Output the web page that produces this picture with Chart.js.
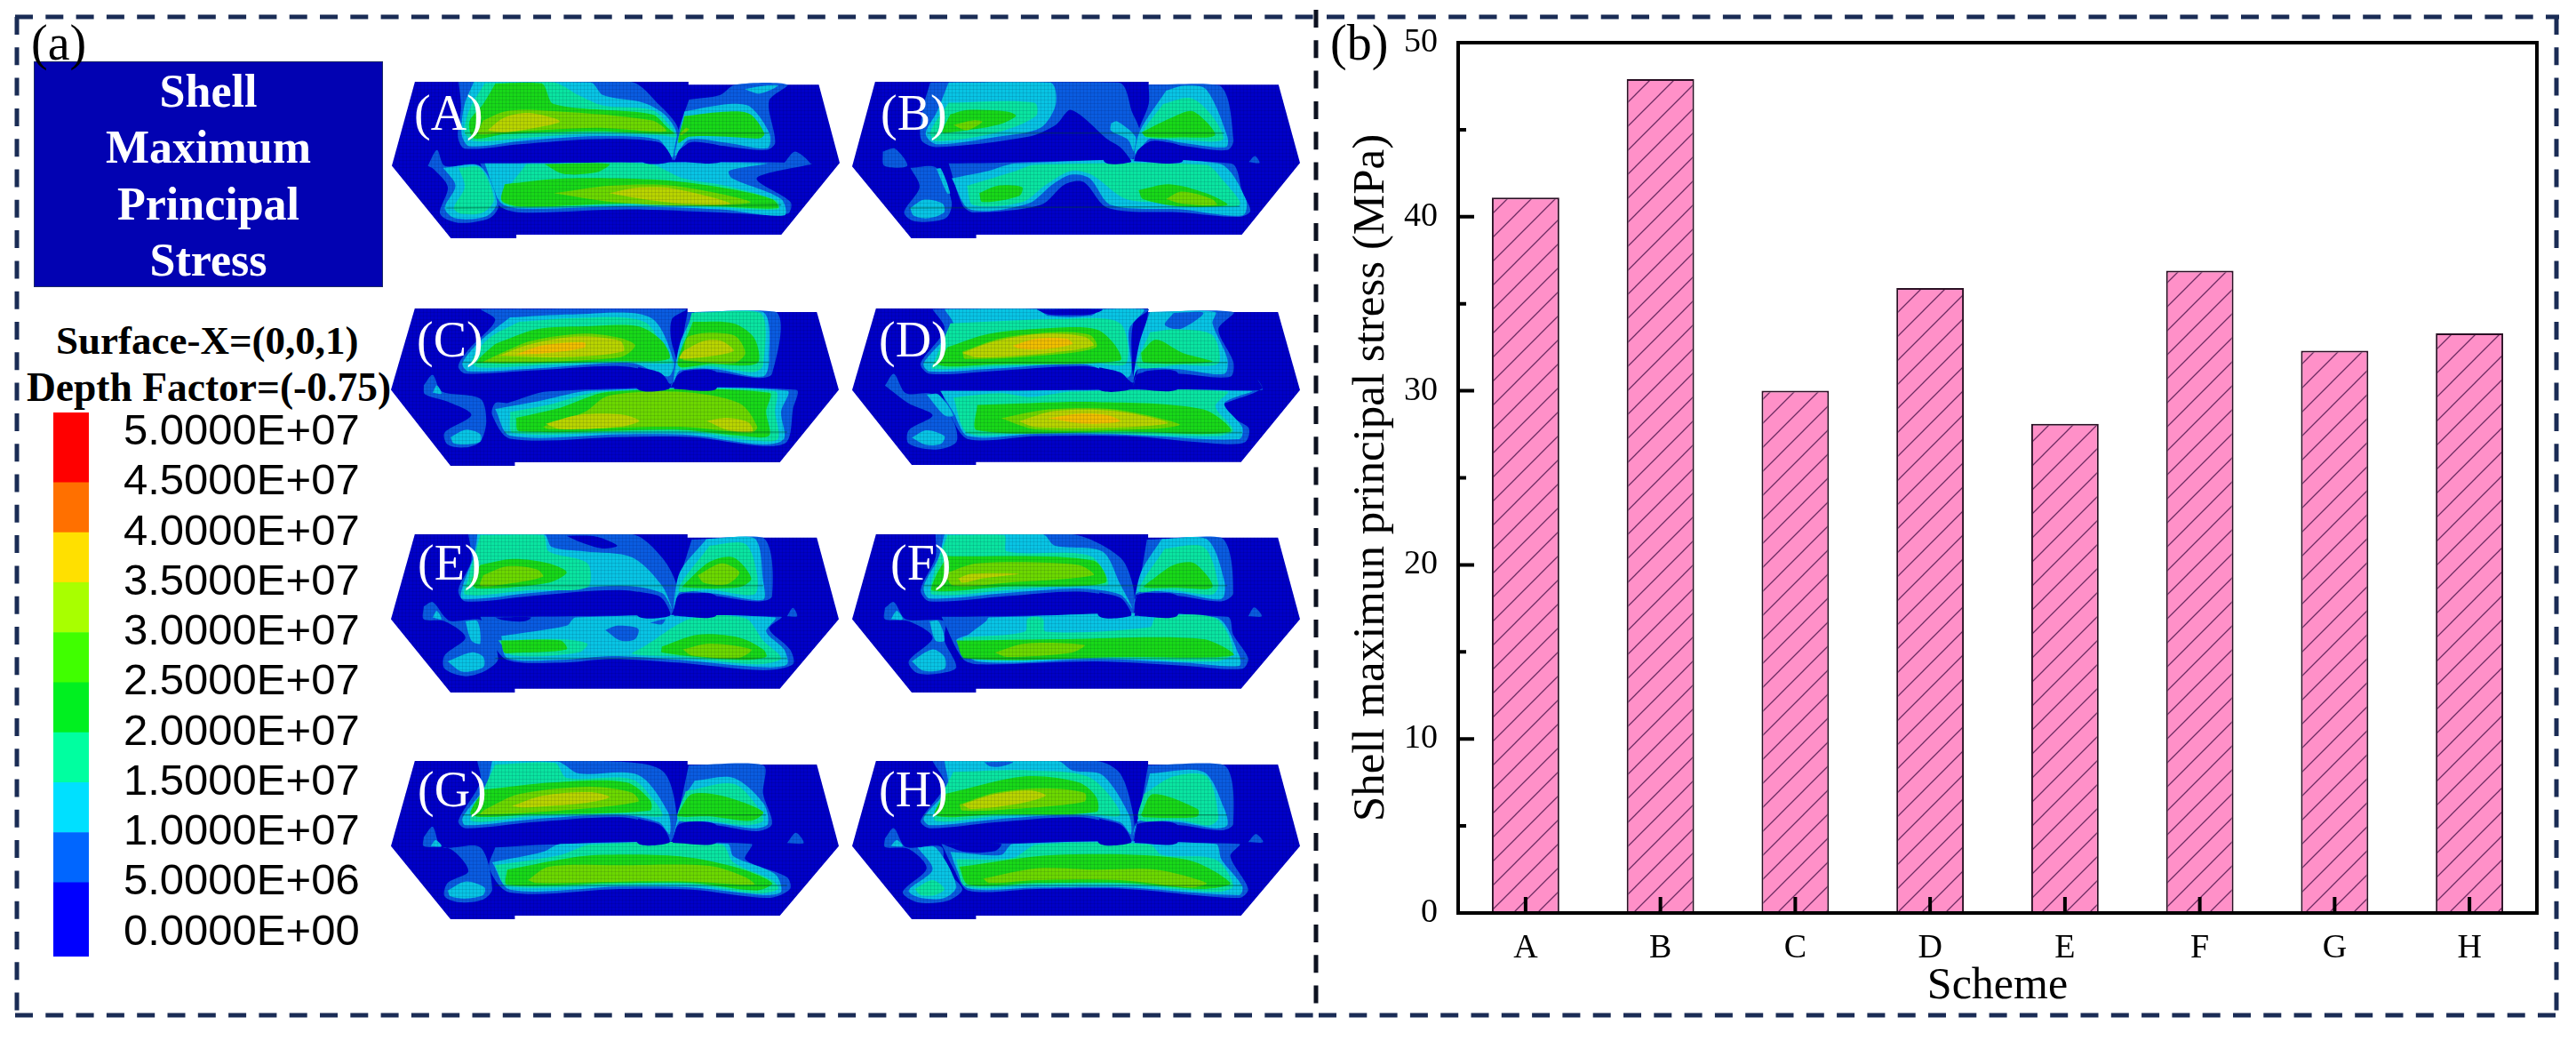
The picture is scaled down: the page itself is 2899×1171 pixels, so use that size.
<!DOCTYPE html>
<html lang="en">
<head>
<meta charset="UTF-8">
<title>Shell maximum principal stress</title>
<script src="https://cdn.jsdelivr.net/npm/chart.js"></script>
<style>
    html, body { margin: 0; background: #fff; width: 2899px; height: 1171px; overflow: hidden; }
    canvas, svg, .t { position: absolute; }
    .t { white-space: nowrap; line-height: 60px; height: 60px; color: #000; font-family: "Liberation Serif", serif; }
    .title { left: 38px; width: 393px; text-align: center; color: #fff; font-weight: bold; font-size: 52px; }
    .sub { font-weight: bold; }
    .tag { font-size: 56px; color: #fff; }
    .panel { font-size: 56px; }
    #box { position: absolute; left: 38px; top: 69px; width: 391px; height: 252px; background: #0202b2; border: 1px solid #1c2a66; }
    .mesh { filter: blur(0.6px); }
</style>
</head>
<body>
<svg width="2899" height="1171">
    <g stroke="#1a2c55" stroke-width="5" stroke-dasharray="20 14.3" fill="none">
        <line x1="17" y1="19" x2="1481" y2="19"/>
        <line x1="1493" y1="19" x2="2880" y2="19"/>
        <line x1="17" y1="1142" x2="1481" y2="1142"/>
        <line x1="1484" y1="1142" x2="2880" y2="1142"/>
        <line x1="19" y1="19" x2="19" y2="1142"/>
        <line x1="2877" y1="19" x2="2877" y2="1142"/>
        <line x1="1481" y1="11" x2="1481" y2="1142" stroke="#0d1220"/>
    </g>
</svg>

<div id="box"></div>
<div class="t title" style="top:73px">Shell</div>
<div class="t title" style="top:136px">Maximum</div>
<div class="t title" style="top:200px">Principal</div>
<div class="t title" style="top:263px">Stress</div>
<div class="t panel" style="left:35px;top:18px">(a)</div>
<div class="t panel" style="left:1497px;top:18px">(b)</div>
<div class="t sub" style="left:63px;top:353px;font-size:45px">Surface-X=(0,0,1)</div>
<div class="t sub" style="left:30px;top:406px;font-size:45.5px">Depth Factor=(-0.75)</div>

<canvas id="colorbarChart" width="370" height="612" style="left:60px;top:464px"></canvas>
<canvas id="barChart" width="1380" height="1115" style="left:1490px;top:25px"></canvas>

<script>
// panel (b)
const schemes = ['A', 'B', 'C', 'D', 'E', 'F', 'G', 'H'];
const shellStress = [41.1, 47.9, 30.0, 35.9, 28.1, 36.9, 32.3, 33.3];
const minorStressTicks = [5, 15, 25, 35, 45];

// colour bar of panel (a)
const levelColors = ['#0000ff', '#0066ff', '#00e0ff', '#00ffa0', '#00f020', '#40ff00', '#a8ff00', '#ffe000', '#ff7000', '#ff0000'];
const levelLow = [-2400000, 5000000, 10000000, 15000000, 20000000, 25000000, 30000000, 35000000, 40000000, 45000000];
const levelHigh = [5000000, 10000000, 15000000, 20000000, 25000000, 30000000, 35000000, 40000000, 45000000, 52000000];
const levelTickValues = [0, 5000000, 10000000, 15000000, 20000000, 25000000, 30000000, 35000000, 40000000, 45000000, 50000000];
const levelTickLabels = ['0.0000E+00', '5.0000E+06', '1.0000E+07', '1.5000E+07', '2.0000E+07', '2.5000E+07', '3.0000E+07', '3.5000E+07', '4.0000E+07', '4.5000E+07', '5.0000E+07'];

// contour bands, index used in the [band, points] pairs below. 8 = deep blue patch, 7 = seam line
const bandColors = ['#0a5ce0', '#08c4e4', '#0ae4a0', '#18d818', '#6cd800', '#b8d400', '#f0be00', 'rgba(0,70,40,0.4)', '#0000c8'];

const panelNames = ['(A)', '(B)', '(C)', '(D)', '(E)', '(F)', '(G)', '(H)'];

// mesh outlines and contours, in each panel's own mesh units
const shellA = [108,95, 998,95, 998,105, 1422,105, 1490,368, 1300,610, 438,610, 438,622, 225,622, 33,378];
const contoursA = [
    [0, [250,95, 810,95, 900,170, 965,255, 945,360, 900,300, 700,288, 450,305, 270,320, 248,280, 258,180]],
    [1, [300,95, 680,97, 720,140, 850,165, 920,205, 960,270, 945,350, 900,290, 700,278, 450,295, 285,312, 260,270, 270,170]],
    [2, [335,100, 560,97, 640,140, 720,175, 880,190, 935,240, 958,280, 900,275, 700,268, 450,285, 300,295, 270,265, 285,190]],
    [3, [370,100, 520,100, 560,170, 880,205, 930,250, 950,270, 700,262, 400,272, 300,285, 285,230, 330,170]],
    [4, [330,225, 400,195, 500,190, 880,225, 925,262, 700,250, 400,265, 315,270]],
    [5, [345,258, 400,215, 480,200, 580,228, 500,250, 400,265]],
    [0, [1000,155, 1100,140, 1150,105, 1320,105, 1260,160, 1280,300, 1250,325, 1100,310, 1000,300, 950,360, 965,260]],
    [1, [985,195, 1130,170, 1200,180, 1262,270, 1255,318, 1120,300, 1000,290, 955,345, 970,260]],
    [1, [1180,120, 1250,108, 1290,108, 1230,135]],
    [3, [985,210, 1130,195, 1200,205, 1245,270, 1230,285, 1120,280, 1000,280, 965,300]],
    [4, [970,270, 990,250, 1000,255, 975,275]],
    [0, [320,370, 1395,370, 1220,420, 1330,500, 1320,540, 1100,535, 800,525, 450,535, 380,510]],
    [1, [335,370, 1250,370, 1130,395, 1140,420, 1300,490, 1310,545, 1100,525, 800,515, 450,522, 385,500]],
    [2, [470,372, 870,372, 980,420, 1120,445, 1285,495, 1290,525, 1100,518, 800,508, 450,518, 390,495]],
    [3, [530,372, 740,372, 700,400, 590,405]],
    [3, [400,440, 600,420, 900,425, 1100,450, 1270,490, 1290,520, 1100,515, 800,505, 450,515, 390,495]],
    [4, [560,470, 740,445, 950,445, 1200,500, 1000,512, 750,500]],
    [5, [740,470, 830,452, 950,455, 1135,505, 980,505, 850,490]],
    [0, [150,378, 180,325, 205,378, 320,378, 380,510, 350,555, 250,570, 190,540, 215,450, 170,390]],
    [1, [200,385, 320,380, 375,500, 340,548, 240,555, 205,520, 240,445]],
    [2, [250,385, 320,385, 365,490, 330,535, 260,540, 235,520, 270,450]],
    [0, [1310,368, 1345,330, 1395,372, 1350,372]],
    [8, [850,292, 905,300, 930,325, 943,362, 850,366]],
    [8, [955,362, 968,325, 1005,303, 1100,312, 1100,366]],
    [7, [270,268, 1260,268]],
    [7, [210,520, 1300,510]]
];
const shellB = [100,95, 993,95, 993,105, 1417,105, 1487,368, 1297,610, 430,610, 430,622, 218,622, 25,380];
const contoursB = [
    [0, [280,97, 895,97, 940,200, 965,270, 935,365, 920,340, 860,290, 740,190, 690,240, 600,280, 300,315, 250,290, 255,190]],
    [1, [340,97, 672,97, 690,170, 640,250, 500,280, 300,305, 265,270, 300,200]],
    [1, [870,235, 890,228, 950,280, 945,330, 925,290, 870,260]],
    [2, [340,165, 620,165, 625,210, 500,265, 300,295, 280,265]],
    [3, [345,205, 400,190, 530,195, 560,210, 500,240, 350,265, 320,265]],
    [4, [355,240, 420,225, 450,230, 400,258]],
    [0, [993,105, 1225,108, 1270,290, 1250,325, 1100,310, 1000,295, 945,360, 960,260, 993,170]],
    [1, [1050,125, 1110,108, 1180,120, 1250,280, 1245,315, 1100,300, 1000,285, 950,340, 965,260]],
    [2, [1040,170, 1130,150, 1200,210, 1235,290, 1100,290, 975,275]],
    [3, [970,265, 1080,210, 1140,195, 1210,275, 1100,282, 985,280]],
    [0, [340,370, 1260,370, 1300,470, 1325,530, 1290,550, 1100,535, 860,520, 780,432, 720,440, 640,510, 420,535, 385,510]],
    [1, [350,420, 470,395, 560,370, 1220,370, 1310,490, 1300,545, 1100,525, 870,510, 800,420, 740,408, 680,440, 600,505, 410,525]],
    [2, [400,445, 560,395, 620,375, 1180,375, 1230,420, 1290,510, 1100,500, 920,490, 810,410, 740,395, 660,440, 580,500, 420,510]],
    [3, [440,470, 500,445, 580,450, 570,480, 450,500]],
    [3, [960,460, 1060,440, 1180,470, 1250,510, 1100,515, 975,490]],
    [4, [1050,490, 1100,465, 1200,490, 1215,510, 1100,505]],
    [0, [125,330, 165,320, 205,378, 130,378]],
    [0, [215,385, 300,385, 350,500, 330,555, 230,565, 195,535, 245,450]],
    [1, [300,388, 315,388, 345,470, 335,470]],
    [1, [215,520, 260,492, 320,505, 325,535, 270,555, 225,545]],
    [0, [1320,365, 1340,345, 1355,368]],
    [8, [850,285, 900,315, 925,345, 935,365, 850,366]],
    [8, [945,362, 958,325, 1000,297, 1100,312, 1100,366]],
    [7, [270,268, 1240,268]],
    [7, [210,520, 1290,515]]
];
const shellC = [55,80, 513,80, 513,92, 730,92, 767,355, 668,600, 223,600, 223,612, 115,612, 15,355];
const contoursC = [
    [0, [165,82, 510,82, 487,115, 485,180, 495,270, 485,335, 465,300, 400,275, 250,290, 140,300, 128,275, 145,220, 190,120]],
    [1, [215,110, 320,100, 450,110, 490,260, 480,310, 420,265, 280,280, 145,292, 135,265, 165,190]],
    [2, [230,125, 330,112, 440,125, 480,240, 487,265, 400,262, 280,270, 165,280, 150,260, 180,180]],
    [3, [190,200, 260,150, 340,140, 430,140, 470,190, 482,250, 400,258, 160,265, 165,245]],
    [4, [185,245, 250,190, 340,165, 400,180, 425,205, 400,245, 170,262]],
    [5, [195,240, 250,200, 330,175, 400,190, 405,225, 300,245]],
    [6, [225,235, 270,205, 340,195, 340,212, 280,230]],
    [0, [513,92, 662,92, 655,300, 630,315, 560,295, 500,300, 485,345, 497,260]],
    [1, [525,92, 640,92, 650,250, 640,310, 560,285, 500,290, 490,330, 500,200]],
    [2, [520,95, 635,95, 640,270, 625,295, 550,275, 500,280]],
    [3, [522,125, 590,130, 625,180, 630,265, 550,268, 497,272]],
    [4, [505,255, 515,175, 590,170, 610,230, 590,265]],
    [5, [505,225, 540,190, 570,190, 590,225, 500,250]],
    [0, [210,400, 280,360, 695,355, 690,420, 680,530, 640,545, 520,515, 400,515, 215,520, 185,440, 190,400]],
    [1, [190,420, 270,390, 350,358, 680,358, 670,430, 675,520, 640,540, 520,508, 400,505, 215,510]],
    [2, [215,430, 280,405, 370,360, 660,360, 660,430, 665,520, 630,528, 520,498, 400,498, 220,500]],
    [3, [225,450, 300,415, 380,362, 650,365, 645,430, 650,510, 600,510, 500,490, 230,495]],
    [4, [270,480, 340,430, 380,375, 500,362, 600,400, 630,480, 620,500, 500,480, 280,488]],
    [5, [275,470, 330,440, 400,438, 432,460, 400,480, 300,488]],
    [5, [545,460, 580,450, 615,465, 622,495, 580,490]],
    [0, [70,340, 85,305, 100,360, 165,385, 175,460, 165,530, 140,550, 110,540, 105,500, 150,440, 110,395, 72,370]],
    [1, [115,515, 140,490, 165,505, 165,530, 140,540, 120,535]],
    [1, [85,365, 92,340, 100,368]],
    [8, [430,278, 465,295, 478,320, 482,352, 430,354]],
    [8, [490,352, 495,310, 510,290, 560,293, 560,354]],
    [7, [135,262, 650,262]],
    [7, [205,498, 680,498]]
];
const shellD = [830,80, 1287,80, 1287,92, 1505,92, 1542,355, 1443,597, 998,597, 998,607, 890,607, 790,355];
const contoursD = [
    [0, [925,82, 1287,82, 1262,130, 1260,280, 1262,330, 1240,300, 1180,275, 1030,290, 920,300, 905,265, 945,150]],
    [1, [945,82, 1100,82, 1120,105, 1190,105, 1210,82, 1280,82, 1255,150, 1255,310, 1180,268, 1030,282, 920,292, 910,265, 960,140]],
    [8, [1100,84, 1210,84, 1190,100, 1120,100]],
    [2, [955,130, 1150,115, 1240,130, 1250,265, 1190,262, 1030,275, 925,282, 930,250]],
    [3, [950,210, 1020,165, 1130,145, 1200,150, 1230,200, 1240,255, 1030,268, 935,270]],
    [4, [975,225, 1040,180, 1130,160, 1190,170, 1200,210, 1130,235, 980,250]],
    [5, [975,230, 1030,190, 1110,165, 1180,175, 1195,205, 1110,232, 1000,245]],
    [6, [1060,205, 1100,182, 1150,182, 1160,200, 1110,218, 1070,215]],
    [0, [1287,92, 1430,92, 1405,150, 1430,260, 1425,310, 1340,300, 1270,300, 1262,345, 1275,240]],
    [1, [1290,92, 1400,92, 1395,130, 1420,250, 1415,300, 1340,285, 1270,285, 1262,320, 1272,200, 1285,120]],
    [0, [1330,95, 1380,95, 1340,150, 1315,135]],
    [2, [1290,160, 1340,150, 1395,170, 1405,265, 1340,270, 1270,275]],
    [3, [1275,230, 1300,185, 1345,230, 1395,260, 1280,262]],
    [0, [940,357, 1478,355, 1470,318, 1478,350, 1400,420, 1455,480, 1450,530, 1400,535, 1250,510, 1100,510, 985,520, 955,440]],
    [1, [938,358, 1460,358, 1415,400, 1445,480, 1440,520, 1250,505, 1100,502, 985,510, 960,430]],
    [2, [960,380, 1040,365, 1090,378, 1160,360, 1420,360, 1400,410, 1430,490, 1400,510, 1100,495, 985,500]],
    [3, [1000,405, 1200,395, 1380,420, 1425,495, 1250,495, 1000,490]],
    [4, [1040,450, 1120,420, 1230,420, 1340,470, 1300,485, 1100,488]],
    [5, [1070,460, 1130,425, 1230,425, 1320,465, 1250,480, 1100,480]],
    [6, [1118,450, 1170,435, 1220,440, 1240,460, 1180,468]],
    [0, [845,340, 860,300, 880,365, 925,370, 960,460, 965,530, 930,555, 885,535, 885,490, 925,440, 885,400]],
    [1, [915,370, 935,370, 960,440, 945,440]],
    [1, [890,515, 915,490, 945,510, 940,535, 915,540]],
    [8, [1205,278, 1240,295, 1253,320, 1258,352, 1205,354]],
    [8, [1264,352, 1270,310, 1285,290, 1335,293, 1335,354]],
    [7, [910,262, 1420,262]],
    [7, [980,498, 1445,498]]
];
const shellE = [55,92, 513,92, 513,103, 730,103, 767,378, 668,612, 223,612, 223,625, 115,625, 15,378];
const contoursE = [
    [0, [145,92, 420,92, 470,170, 495,270, 485,365, 470,310, 400,280, 250,300, 140,318, 128,280, 150,180]],
    [1, [160,92, 272,92, 285,135, 340,150, 420,170, 470,265, 487,345, 470,290, 400,265, 250,290, 135,310, 135,270, 155,160]],
    [8, [310,97, 360,100, 395,130, 370,140, 335,120]],
    [2, [165,95, 270,95, 280,150, 345,190, 345,270, 250,280, 140,295, 145,240]],
    [3, [165,195, 220,175, 280,190, 310,220, 280,255, 160,275, 150,250]],
    [4, [170,230, 210,200, 260,210, 270,235, 200,262, 165,265]],
    [0, [520,110, 640,103, 655,300, 630,318, 560,300, 500,295, 485,365, 497,260]],
    [1, [545,108, 625,105, 640,250, 640,312, 560,292, 500,288, 490,345, 500,220]],
    [2, [550,130, 610,125, 630,230, 625,295, 550,278, 498,280]],
    [3, [510,255, 550,185, 590,170, 620,240, 600,270, 505,270]],
    [4, [530,230, 570,190, 600,220, 580,260, 540,255]],
    [0, [165,370, 670,370, 650,410, 685,480, 690,530, 640,550, 500,525, 385,512, 300,525, 210,515, 180,440]],
    [1, [200,435, 310,400, 325,372, 660,372, 645,420, 675,480, 680,530, 640,540, 500,515, 385,502, 300,515, 210,508]],
    [8, [190,372, 250,372, 240,385, 205,382]],
    [0, [375,415, 395,400, 430,410, 425,445, 400,450]],
    [0, [450,390, 475,378, 470,395]],
    [2, [195,450, 300,445, 345,460, 330,490, 220,500]],
    [2, [440,470, 520,375, 610,375, 640,450, 670,510, 630,530, 500,505, 420,495]],
    [3, [200,450, 300,450, 310,480, 220,492, 205,490]],
    [3, [470,470, 530,430, 600,440, 640,480, 645,505, 600,515, 470,490]],
    [4, [505,480, 550,460, 620,480, 600,508, 520,500]],
    [0, [70,335, 85,320, 105,370, 115,385, 170,385, 195,510, 175,550, 140,570, 105,545, 105,500, 140,440, 105,385, 70,378]],
    [1, [110,520, 150,490, 170,505, 170,540, 135,555]],
    [1, [140,385, 160,385, 165,460, 150,450]],
    [1, [85,372, 92,350, 100,378]],
    [0, [680,368, 690,340, 697,368]],
    [8, [430,285, 465,300, 478,330, 483,367, 430,368]],
    [8, [490,367, 495,320, 510,295, 560,298, 560,368]],
    [7, [135,265, 640,265]],
    [7, [190,510, 680,510]]
];
const shellF = [830,92, 1287,92, 1287,103, 1505,103, 1542,378, 1443,612, 998,612, 998,625, 890,625, 790,378];
const contoursF = [
    [0, [930,92, 1160,92, 1240,170, 1262,270, 1262,360, 1240,310, 1170,285, 1050,300, 920,318, 905,280, 930,170]],
    [1, [945,92, 1110,92, 1130,130, 1210,150, 1240,260, 1260,340, 1240,295, 1170,275, 1050,290, 920,308, 910,270, 935,170]],
    [2, [950,95, 1045,95, 1050,150, 1190,165, 1220,260, 1170,262, 1050,280, 925,295, 925,240]],
    [3, [950,165, 1195,180, 1215,255, 1050,268, 925,282, 930,235]],
    [4, [945,225, 1000,190, 1170,195, 1195,230, 1050,255, 960,265]],
    [5, [968,240, 990,225, 1070,225, 1010,240, 975,255]],
    [0, [1285,110, 1410,103, 1430,290, 1410,318, 1340,300, 1270,295, 1260,365, 1272,260]],
    [1, [1310,108, 1385,108, 1415,250, 1410,310, 1340,290, 1270,288, 1262,345, 1275,220]],
    [2, [1315,140, 1380,135, 1405,260, 1395,295, 1320,278, 1272,282]],
    [3, [1290,250, 1330,195, 1365,190, 1395,270, 1330,272, 1280,270]],
    [0, [940,370, 1420,370, 1430,430, 1455,510, 1445,545, 1350,535, 1200,520, 1000,530, 975,510]],
    [1, [985,430, 1015,385, 1020,372, 1400,372, 1440,500, 1440,535, 1350,525, 1200,512, 1000,520, 965,450]],
    [2, [975,440, 1080,420, 1085,375, 1110,375, 1115,420, 1290,405, 1300,372, 1400,375, 1430,490, 1400,520, 1200,505, 1000,512]],
    [3, [965,450, 1150,445, 1380,445, 1430,500, 1250,505, 980,510]],
    [4, [1030,490, 1080,460, 1180,465, 1160,490, 1050,505]],
    [0, [845,340, 860,320, 880,378, 945,385, 945,450, 965,540, 940,560, 900,560, 885,520, 925,440, 885,385, 845,378]],
    [1, [890,520, 925,480, 945,505, 945,545, 910,552]],
    [1, [920,385, 935,385, 945,450, 930,450]],
    [1, [855,378, 865,350, 875,378]],
    [0, [1455,368, 1465,338, 1478,368]],
    [8, [1205,288, 1240,305, 1253,335, 1258,367, 1205,368]],
    [8, [1264,367, 1270,320, 1285,295, 1335,298, 1335,368]],
    [7, [910,265, 1420,265]],
    [7, [970,510, 1450,510]]
];
const shellG = [55,78, 513,78, 513,90, 730,90, 767,365, 668,600, 223,600, 223,612, 115,612, 15,365];
const contoursG = [
    [0, [160,78, 370,78, 470,110, 495,260, 485,350, 465,300, 400,268, 250,285, 140,305, 128,280, 165,150]],
    [1, [185,78, 295,80, 330,120, 430,125, 480,250, 483,325, 465,285, 400,260, 250,275, 140,295, 135,270, 175,160]],
    [2, [190,90, 290,85, 310,135, 420,140, 460,220, 470,265, 400,255, 250,265, 150,280, 165,200]],
    [3, [170,175, 290,150, 410,150, 450,210, 450,245, 250,258, 150,260]],
    [4, [170,245, 230,190, 350,165, 420,185, 430,215, 300,245, 165,258]],
    [5, [218,230, 270,195, 350,183, 382,200, 340,220, 240,235]],
    [0, [515,92, 640,92, 640,190, 655,290, 630,315, 560,295, 500,290, 485,350, 497,260]],
    [1, [525,145, 590,135, 640,220, 648,290, 625,305, 560,288, 500,282, 490,330, 505,210]],
    [2, [510,180, 590,155, 630,230, 640,280, 610,295, 550,280, 497,275]],
    [3, [500,245, 520,190, 570,195, 640,250, 620,280, 550,265, 497,265]],
    [0, [190,370, 280,360, 620,358, 610,410, 680,470, 685,510, 650,540, 520,512, 400,510, 215,522, 180,440]],
    [1, [185,420, 270,385, 300,358, 580,358, 590,400, 660,460, 670,520, 640,530, 520,505, 400,502, 215,512]],
    [2, [190,430, 300,395, 350,360, 570,360, 590,420, 655,480, 665,510, 630,525, 520,495, 400,495, 210,500]],
    [3, [210,445, 300,410, 360,395, 500,400, 600,440, 655,490, 630,515, 520,490, 400,490, 210,495]],
    [4, [245,480, 280,435, 400,430, 550,432, 610,470, 625,495, 520,485, 400,485, 260,490]],
    [0, [70,335, 85,300, 100,368, 165,370, 185,510, 170,545, 130,555, 105,535, 110,490, 145,450, 115,375, 70,365]],
    [1, [110,515, 140,485, 172,505, 170,530, 140,542, 115,535]],
    [1, [82,365, 90,345, 100,365]],
    [0, [680,355, 695,320, 708,355]],
    [8, [430,272, 465,292, 478,320, 482,354, 430,356]],
    [8, [488,354, 494,310, 510,285, 560,292, 560,356]],
    [7, [135,260, 645,260]],
    [7, [190,498, 680,498]]
];
const shellH = [830,78, 1287,78, 1287,90, 1505,90, 1542,365, 1443,600, 998,600, 998,612, 890,612, 790,365];
const contoursH = [
    [0, [925,78, 1200,78, 1240,120, 1262,260, 1262,350, 1240,300, 1170,268, 1030,285, 920,305, 905,280, 945,160]],
    [1, [945,78, 1135,78, 1160,110, 1210,125, 1255,260, 1258,325, 1240,285, 1170,260, 1030,275, 920,295, 910,270, 950,170]],
    [0, [1012,82, 1060,82, 1040,97, 1020,95]],
    [2, [960,115, 1090,110, 1190,135, 1240,260, 1170,252, 1030,265, 930,280, 935,220]],
    [3, [945,190, 1080,130, 1170,150, 1200,200, 1200,250, 1030,258, 930,262]],
    [4, [970,225, 1030,185, 1110,170, 1180,185, 1180,215, 1060,240, 975,245]],
    [5, [975,225, 1030,190, 1090,178, 1115,195, 1070,222, 990,240]],
    [0, [1287,92, 1415,92, 1430,290, 1410,312, 1340,295, 1270,290, 1262,350, 1272,260]],
    [1, [1290,120, 1380,115, 1415,240, 1420,295, 1400,305, 1340,285, 1270,282, 1262,330, 1280,200]],
    [2, [1280,190, 1330,130, 1385,130, 1405,270, 1390,295, 1340,278, 1272,275]],
    [3, [1275,260, 1295,190, 1370,240, 1370,265, 1340,270, 1280,268]],
    [0, [940,358, 1440,358, 1425,400, 1455,510, 1440,540, 1250,510, 1100,510, 985,515, 960,440]],
    [8, [940,358, 1040,358, 1030,382, 980,385]],
    [1, [955,385, 1040,395, 1060,358, 1400,358, 1410,410, 1445,500, 1440,530, 1250,505, 1100,505, 985,508, 965,440]],
    [2, [965,410, 1060,405, 1100,360, 1290,360, 1310,395, 1400,410, 1430,500, 1400,520, 1250,495, 1100,495, 980,500]],
    [3, [970,435, 1130,395, 1350,410, 1425,490, 1380,510, 1250,490, 1100,490, 985,495]],
    [4, [1010,475, 1100,440, 1200,445, 1300,445, 1385,490, 1360,505, 1240,480, 1100,480, 1020,490]],
    [0, [845,340, 860,305, 880,368, 940,368, 945,440, 975,510, 950,550, 900,555, 875,520, 915,440, 885,375, 845,368]],
    [1, [900,370, 930,370, 965,500, 945,540, 905,540, 885,515, 925,445]],
    [2, [895,510, 925,480, 945,510, 930,530, 905,530]],
    [1, [855,365, 865,345, 875,365]],
    [0, [1455,352, 1468,325, 1480,352]],
    [8, [1205,272, 1240,292, 1253,320, 1258,354, 1205,356]],
    [8, [1264,354, 1270,310, 1285,285, 1335,292, 1335,356]],
    [7, [910,260, 1420,260]],
    [7, [980,498, 1445,498]]
];
const shells = [shellA, shellB, shellC, shellD, shellE, shellF, shellG, shellH];
const contours = [contoursA, contoursB, contoursC, contoursD, contoursE, contoursF, contoursG, contoursH];

// where each mesh plot sits on the page
const meshLeft = [441, 959, 440, 959, 440, 959, 440, 959];
const meshTop = [92, 92, 347, 347, 601, 601, 856, 856];
const meshHeight = [176, 176, 177, 176, 178, 178, 178, 178];
const tagLeft = [466, 991, 469, 989, 470, 1002, 470, 989];
const tagTop = [97, 97, 352, 352, 603, 603, 858, 858];

function toPoints(flat) {
    const pts = [];
    for (let i = 0; i < flat.length; i += 2) pts.push({ x: flat[i], y: flat[i + 1] });
    return pts;
}

function polygon(flat, color) {
    const pts = toPoints(flat);
    pts.push(pts[0]);
    return { data: pts, showLine: true, fill: 'shape', backgroundColor: color, borderWidth: 0, pointRadius: 0, tension: 0.3 };
}

function meshPattern() {
    const tile = document.createElement('canvas');
    tile.width = tile.height = 4;
    const c = tile.getContext('2d');
    c.fillStyle = 'rgba(0,0,40,0.10)';
    c.fillRect(0, 0, 4, 1);
    c.fillRect(0, 0, 1, 4);
    return c.createPattern(tile, 'repeat');
}

function hatchPattern() {
    const tile = document.createElement('canvas');
    tile.width = tile.height = 27;
    const c = tile.getContext('2d');
    c.fillStyle = '#ff90c8';
    c.fillRect(0, 0, 27, 27);
    c.strokeStyle = '#6e2c62';
    c.lineWidth = 1.3;
    c.beginPath();
    c.moveTo(-3, 30); c.lineTo(30, -3);
    c.moveTo(-3, 3); c.lineTo(3, -3);
    c.moveTo(24, 30); c.lineTo(30, 24);
    c.stroke();
    return c.createPattern(tile, 'repeat');
}

function drawMesh(i) {
    const canvas = document.createElement('canvas');
    canvas.width = 504;
    canvas.height = meshHeight[i];
    canvas.className = 'mesh';
    canvas.style.left = meshLeft[i] + 'px';
    canvas.style.top = meshTop[i] + 'px';
    document.body.appendChild(canvas);

    const shell = shells[i];
    const xs = shell.filter((v, k) => k % 2 === 0);
    const ys = shell.filter((v, k) => k % 2 === 1);

    const sets = [];
    const base = polygon(shell, '#0000c8');
    base.tension = 0;
    sets.push(base);
    contours[i].forEach(c => {
        if (c[0] === 7) {
            sets.push({ data: toPoints(c[1]), showLine: true, fill: false, borderColor: bandColors[7], borderWidth: 1.5, pointRadius: 0 });
        } else {
            sets.push(polygon(c[1], bandColors[c[0]]));
        }
    });
    const grid = polygon(shell, meshPattern());
    grid.tension = 0;
    sets.push(grid);

    new Chart(canvas, {
        type: 'scatter',
        // first dataset is painted last, so the list goes in reversed
        data: { datasets: sets.reverse() },
        options: {
            responsive: false,
            animation: false,
            plugins: { legend: { display: false }, tooltip: { enabled: false } },
            scales: {
                x: { display: false, min: Math.min(...xs), max: Math.max(...xs) },
                y: { display: false, reverse: true, min: Math.min(...ys), max: Math.max(...ys) }
            }
        }
    });

    const tag = document.createElement('div');
    tag.className = 't tag';
    tag.style.left = tagLeft[i] + 'px';
    tag.style.top = tagTop[i] + 'px';
    tag.textContent = panelNames[i];
    document.body.appendChild(tag);
}

shells.forEach((s, i) => drawMesh(i));

new Chart(document.getElementById('colorbarChart'), {
    type: 'bar',
    data: {
        labels: ['level'],
        datasets: levelColors.map((color, i) => ({
            data: [[levelLow[i], levelHigh[i]]],
            backgroundColor: color,
            grouped: false,
            borderWidth: 0,
            barPercentage: 1,
            categoryPercentage: 1
        }))
    },
    options: {
        responsive: false,
        animation: false,
        plugins: { legend: { display: false }, tooltip: { enabled: false } },
        scales: {
            x: { display: false },
            y: {
                position: 'right',
                min: -2400000,
                max: 52000000,
                afterBuildTicks: axis => { axis.ticks = levelTickValues.map(v => ({ value: v })); },
                afterFit: axis => { axis.width = 330; axis.paddingTop = 0; axis.paddingBottom = 0; },
                grid: { display: false, drawTicks: false },
                border: { display: false },
                ticks: {
                    padding: 39,
                    color: '#000',
                    autoSkip: false,
                    font: { family: '"Liberation Sans", Arial, sans-serif', size: 49 },
                    callback: value => levelTickLabels[levelTickValues.indexOf(value)]
                }
            }
        }
    }
});

// Chart.js only draws ticks outwards, these go inwards and the frame goes round the plot
const innerTicks = {
    id: 'innerTicks',
    afterDatasetsDraw(chart) {
        const { ctx, chartArea, scales } = chart;
        ctx.save();
        ctx.strokeStyle = '#000';
        ctx.lineWidth = 4;
        ctx.strokeRect(chartArea.left, chartArea.top, chartArea.right - chartArea.left, chartArea.bottom - chartArea.top);
        ctx.beginPath();
        scales.y.ticks.forEach(t => {
            const y = scales.y.getPixelForValue(t.value);
            ctx.moveTo(chartArea.left, y);
            ctx.lineTo(chartArea.left + 18, y);
        });
        minorStressTicks.forEach(v => {
            const y = scales.y.getPixelForValue(v);
            ctx.moveTo(chartArea.left, y);
            ctx.lineTo(chartArea.left + 9, y);
        });
        schemes.forEach((s, i) => {
            const x = scales.x.getPixelForValue(i);
            ctx.moveTo(x, chartArea.bottom);
            ctx.lineTo(x, chartArea.bottom - 18);
        });
        ctx.stroke();
        ctx.restore();
    }
};

const serif = '"Liberation Serif", "Times New Roman", serif';

new Chart(document.getElementById('barChart'), {
    type: 'bar',
    data: {
        labels: schemes,
        datasets: [{
            data: shellStress,
            backgroundColor: hatchPattern(),
            borderColor: '#2a1024',
            borderWidth: 2,
            barPercentage: 0.5,
            categoryPercentage: 1
        }]
    },
    options: {
        responsive: false,
        animation: false,
        layout: { padding: { top: 23, right: 15 } },
        plugins: { legend: { display: false }, tooltip: { enabled: false } },
        scales: {
            x: {
                afterFit: axis => { axis.height = 113; axis.paddingLeft = 0; axis.paddingRight = 0; },
                grid: { display: false, drawTicks: false },
                border: { display: false },
                ticks: { padding: 17, color: '#000', autoSkip: false, maxRotation: 0, font: { family: serif, size: 38 } },
                title: { display: true, text: 'Scheme', color: '#000', padding: 0, font: { family: serif, size: 50 } }
            },
            y: {
                min: 0,
                max: 50,
                afterFit: axis => { axis.width = 151; axis.paddingTop = 0; axis.paddingBottom = 0; },
                grid: { display: false, drawTicks: false },
                border: { display: false },
                ticks: { stepSize: 10, padding: 23, color: '#000', font: { family: serif, size: 38 } },
                title: { display: true, text: 'Shell maximun principal stress (MPa)', color: '#000', padding: { top: 23, bottom: 0 }, font: { family: serif, size: 51 } }
            }
        }
    },
    plugins: [innerTicks]
});
</script>
</body>
</html>
